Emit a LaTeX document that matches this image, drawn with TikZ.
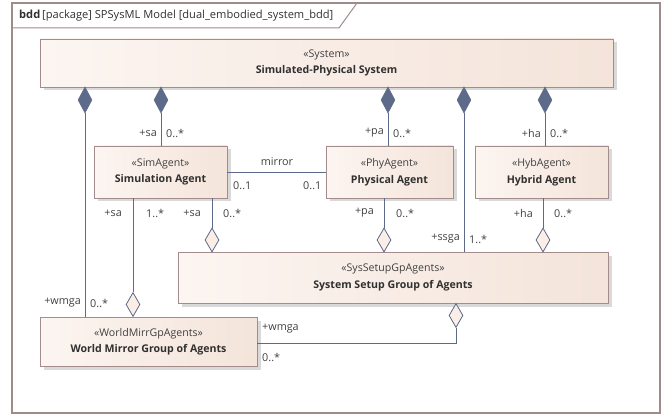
\documentclass[tikz,border=0pt]{standalone}
\usepackage{fontspec}
\setmainfont{Open Sans}
\usetikzlibrary{shapes.geometric,shadows}
\definecolor{linec}{HTML}{5D6A89}
\definecolor{boxb}{HTML}{A48C8C}
\definecolor{fillL}{HTML}{FCF5F1}
\definecolor{fillR}{HTML}{F4E4DA}
\definecolor{framec}{HTML}{9E8C8C}
\definecolor{txt}{HTML}{303030}
\definecolor{stx}{HTML}{404040}
\definecolor{hollowf}{HTML}{FBEEE7}
\tikzset{
  block/.style={rectangle, draw=boxb, line width=0.8pt, left color=fillL, right color=fillR,
    align=center, inner sep=0pt, text=txt, font=\fontsize{10.6}{16.5}\selectfont,
    drop shadow={shadow xshift=3.5pt, shadow yshift=-3.5pt, fill=black, opacity=0.15}},
  comp/.style={diamond, fill=linec, draw=linec, line width=0.6pt, inner sep=0pt, minimum width=14pt, minimum height=26pt},
  aggr/.style={diamond, fill=hollowf, draw=linec, line width=0.8pt, inner sep=0pt, minimum width=14pt, minimum height=24pt},
  conn/.style={draw=linec, line width=0.9pt},
  lbl/.style={font=\fontsize{10.8}{12}\selectfont, text=stx, inner sep=0pt},
}
\newcommand{\stereo}[1]{{\color{stx}«#1»}}
\begin{document}
\begin{tikzpicture}[x=1pt,y=-1pt]
\useasboundingbox (0,0) rectangle (662,417);
% frame
\draw[framec, line width=1.8pt] (12,3) rectangle (660,413);
\draw[framec, line width=1pt] (12,28) -- (339,28) -- (357,3);
\node[anchor=west, inner sep=0pt, text=txt, font=\fontsize{11.1}{12}\selectfont] (title) at (19,15.5) {\textbf{bdd}\,[package] SPSysML Model [dual\_embodied\_system\_bdd]};
% blocks
\node[block, minimum width=573pt, minimum height=48pt] (sys) at (326.5,63) {\stereo{System}\\\textbf{Simulated-Physical System}};
\node[block, minimum width=133pt, minimum height=52pt] (sim) at (160.5,172) {\stereo{SimAgent}\\\textbf{Simulation Agent}};
\node[block, minimum width=127pt, minimum height=52pt] (phy) at (389.5,172) {\stereo{PhyAgent}\\\textbf{Physical Agent}};
\node[block, minimum width=133pt, minimum height=52pt] (hyb) at (541.5,172) {\stereo{HybAgent}\\\textbf{Hybrid Agent}};
\node[block, minimum width=430pt, minimum height=51pt] (ssg) at (393,277.5) {\stereo{SysSetupGpAgents}\\\textbf{System Setup Group of Agents}};
\node[block, minimum width=217pt, minimum height=49pt] (wm) at (148.5,341.5) {\stereo{WorldMirrGpAgents}\\\textbf{World Mirror Group of Agents}};
% composition diamonds
\node[comp] (c1) at (85,100) {};
\node[comp] (c2) at (161,100) {};
\node[comp] (c3) at (388,100) {};
\node[comp] (c4) at (464,100) {};
\node[comp] (c5) at (545,100) {};
% aggregation diamonds
\node[aggr] (a1) at (212,240) {};
\node[aggr] (a2) at (384,240) {};
\node[aggr] (a3) at (543,240) {};
\node[aggr] (a4) at (133,304.5) {};
\node[aggr] (a5) at (456,315.5) {};
% connectors
\draw[conn] (c1.south) -- (c1.south |- wm.north);
\draw[conn] (c2.south) -- (c2.south |- sim.north);
\draw[conn] (c3.south) -- (c3.south |- phy.north);
\draw[conn] (c4.south) -- (c4.south |- ssg.north);
\draw[conn] (c5.south) -- (c5.south |- hyb.north);
\draw[conn] (a1.north |- sim.south) -- (a1.north);
\draw[conn] (a4.north |- sim.south) -- (a4.north);
\draw[conn] (a2.north |- phy.south) -- (a2.north);
\draw[conn] (a3.north |- hyb.south) -- (a3.north);
\coordinate (bend) at (456,343);
\draw[conn] (wm.east |- bend) -- (bend) -- (a5.south);
\draw[conn] (sim.east) -- (phy.west);
% labels
\node[lbl, anchor=east] (l1) at (157,133) {+sa};
\node[lbl, anchor=west] (l2) at (166,133) {0..*};
\node[lbl, anchor=east] (l3) at (384,133) {+pa};
\node[lbl, anchor=west] (l4) at (393,133) {0..*};
\node[lbl, anchor=east] (l5) at (541,133) {+ha};
\node[lbl, anchor=west] (l6) at (550,133) {0..*};
\node[lbl, anchor=east] (l7) at (122,213) {+sa};
\node[lbl, anchor=west] (l8) at (146,213) {1..*};
\node[lbl, anchor=east] (l9) at (201,213) {+sa};
\node[lbl, anchor=west] (l10) at (223,213) {0..*};
\node[lbl, anchor=east] (l11) at (374,213) {+pa};
\node[lbl, anchor=west] (l12) at (396,213) {0..*};
\node[lbl, anchor=east] (l13) at (533,213) {+ha};
\node[lbl, anchor=west] (l14) at (554,213) {0..*};
\node[lbl, anchor=east] (l15) at (460,239) {+ssga};
\node[lbl, anchor=west] (l16) at (469,239) {1..*};
\node[lbl, anchor=east] (l17) at (81,303) {+wmga};
\node[lbl, anchor=west] (l18) at (90,303) {0..*};
\node[lbl] (l19) at (277,162) {mirror};
\node[lbl, anchor=west] (l20) at (233,186) {0..1};
\node[lbl, anchor=west] (l21) at (303,186) {0..1};
\node[lbl, anchor=west] (l22) at (262,329) {+wmga};
\node[lbl, anchor=west] (l23) at (262,357) {0..*};
\end{tikzpicture}
\end{document}
